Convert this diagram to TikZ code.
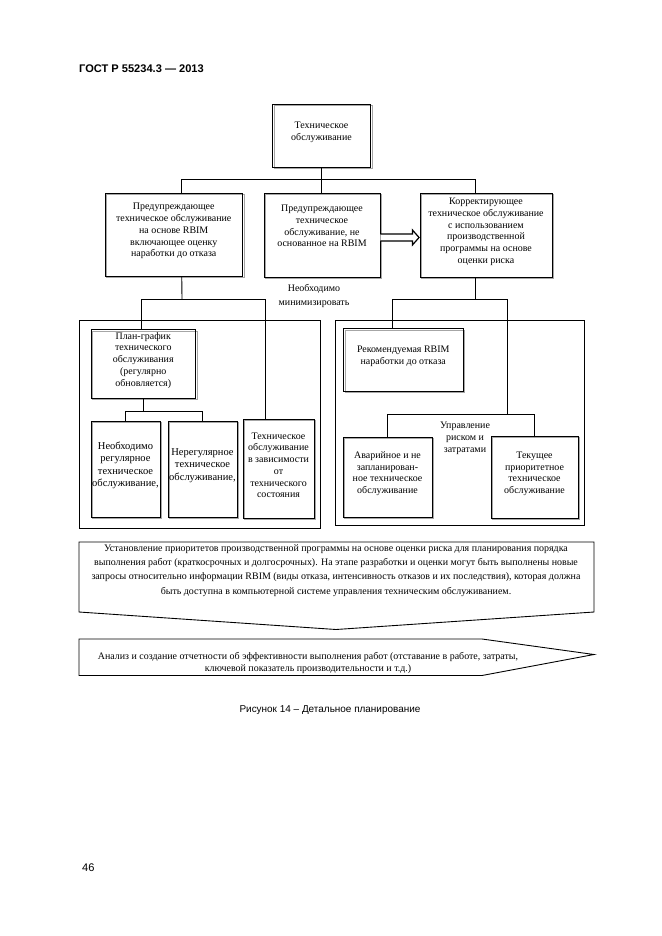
\documentclass[tikz,border=0pt]{standalone}
\usepackage{fontspec}
\setmainfont{Liberation Serif}
\newfontfamily\arialf{Liberation Sans}
\usetikzlibrary{calc,shadows,fit}
\begin{document}
\begin{tikzpicture}[x=0.3177mm,y=-0.3177mm,
  box/.style={draw, line width=0.8pt, inner sep=0pt, align=center,
    font=\fontsize{9}{10.6}\selectfont,
    general shadow={draw=black!35, line width=1.3pt, shadow xshift=1.6pt, shadow yshift=-1.6pt}},
  bigbox/.style={draw, line width=0.8pt, inner sep=0pt},
  conn/.style={line width=0.8pt},
  txt/.style={align=center, font=\fontsize{9}{10.6}\selectfont, inner sep=0pt},
  blockarrow/.style={draw, line width=1.1pt, fill=white, line join=miter}
]
\fill[white] (0,0) rectangle (661,936);
\useasboundingbox (0,0) rectangle (661,936);

% header, caption, page number
\node[anchor=west, inner sep=0pt, font=\arialf\bfseries\fontsize{10}{12}\selectfont] (hdr) at (79,69) {ГОСТ Р 55234.3 — 2013};
\node[inner sep=0pt, font=\arialf\fontsize{9}{11}\selectfont] (cap) at (330,710) {Рисунок 14 – Детальное планирование};
\node[anchor=west, inner sep=0pt, font=\arialf\fontsize{10}{12}\selectfont] (pg) at (82,868) {46};

% big frames
\node[bigbox, fit={(79,320.7) (320,528)}] (BL) {};
\node[bigbox, fit={(335,320.7) (584,525)}] (BR) {};

% boxes
\node[box, fit={(272.5,104) (370.5,167)}] (top) {Техническое\\обслуживание};
\node[box, fit={(105,193) (242.5,276)}] (L) {Предупреждающее\\техническое обслуживание\\на основе RBIM\\включающее оценку\\наработки до отказа};
\node[box, fit={(264,193) (380,277)}] (M) {};
\node[txt] (Mt) at (322,226) {Предупреждающее\\техническое\\обслуживание, не\\основанное на RBIM};
\node[box, fit={(420,193) (552,277)}] (R) {Корректирующее\\техническое обслуживание\\с использованием\\производственной\\программы на основе\\оценки риска};
\node[txt] (nm) at (314,296) {Необходимо\\[2pt]минимизировать};

\node[box, fit={(91,329.5) (195.5,398)}] (plan) {План-график\\технического\\обслуживания\\(регулярно\\обновляется)};
\node[box, font=\fontsize{9.5}{11.2}\selectfont, fit={(91,421) (160,517)}] (nb) {Необходимо\\регулярное\\техническое\\обслуживание,};
\node[box, font=\fontsize{9.5}{11.2}\selectfont, fit={(168,421) (237,517)}] (nr) {Нерегулярное\\техническое\\обслуживание,};
\node[box, fit={(243,419) (314,518)}] (ts) {Техническое\\обслуживание\\в зависимости\\от\\технического\\состояния};

\node[box, fit={(343.5,328.5) (463,391)}] (rec) {Рекомендуемая RBIM\\наработки до отказа};
\node[box, fit={(343,437) (432,517)}] (av) {Аварийное и не\\запланирован-\\ное техническое\\обслуживание};
\node[box, fit={(491,436) (578,518)}] (tek) {Текущее\\приоритетное\\техническое\\обслуживание};
\node[txt, font=\fontsize{9}{10.8}\selectfont] (upr) at (465,438) {Управление\\риском и\\затратами};

% connectors, top level
\coordinate (j0) at (321.5,179.3);
\draw[conn] (top.south) -- (j0);
\draw[conn] (j0) -| ($(L.north)+(8,0)$);
\draw[conn] (j0) -| ($(R.north)+(-11,0)$);
\draw[conn] (j0) -- (j0 |- M.north);

% left branch
\coordinate (j1) at (182,299.3);
\draw[conn] ($(L.south)+(8,0)$) -- (j1);
\draw[conn] (j1) -| ($(plan.north)+(-2,0)$);
\draw[conn] (j1) -| ($(ts.north)+(-13.5,0)$);
\coordinate (j2) at (143.25,411);
\draw[conn] (plan.south) -- (j2);
\draw[conn] (j2) -| (nb.north);
\draw[conn] (j2) -| (nr.north);

% right branch
\coordinate (j3) at (475,299.3);
\coordinate (j4) at (507.5,414);
\draw[conn] ($(R.south)+(-11,0)$) -- (j3);
\draw[conn] (j3) -| ($(rec.north)+(-10.5,0)$);
\draw[conn] (j3) -| (j4);
\draw[conn] ($(rec.south)+(-1.5,0)$) -- ($(rec.south)+(-1.5,0)$ |- j4);
\draw[conn] (j4) -| (av.north);
\draw[conn] (j4) -| (tek.north);

% block arrow between M and R
\draw[blockarrow] ($(M.east)+(0,-1)$) -- ++(32,0) -- ++(0,-4)
  -- ($(R.west)+(-0.5,2.5)$) -- ($(M.east)+(32,10)$) -- ++(0,-4)
  -- ($(M.east)+(0,6)$);

% bottom shapes
\draw[line width=0.8pt, line join=miter] (79,542) coordinate (s1a) -- (594,542) -- (594,612) -- (336,629.5) -- (79,612) -- cycle;
\node[align=center, inner sep=0pt, font=\fontsize{9}{12.8}\selectfont] (t1) at (336,570.5)
 {Установление приоритетов производственной программы на основе оценки риска для планирования порядка\\
  выполнения работ (краткосрочных и долгосрочных). На этапе разработки и оценки могут быть выполнены новые\\
  запросы относительно информации RBIM (виды отказа, интенсивность отказов и их последствия), которая должна\\
  быть доступна в компьютерной системе управления техническим обслуживанием.};

\draw[line width=0.8pt, line join=miter] (79,639) -- (482,639) -- (594,654.5) -- (482,675.5) -- (79,675.5) -- cycle;
\node[align=center, inner sep=0pt, font=\fontsize{9}{10.5}\selectfont] (t2) at (308,663)
 {Анализ и создание отчетности об эффективности выполнения работ (отставание в работе, затраты,\\
  ключевой показатель производительности и т.д.)};
\end{tikzpicture}
\end{document}
